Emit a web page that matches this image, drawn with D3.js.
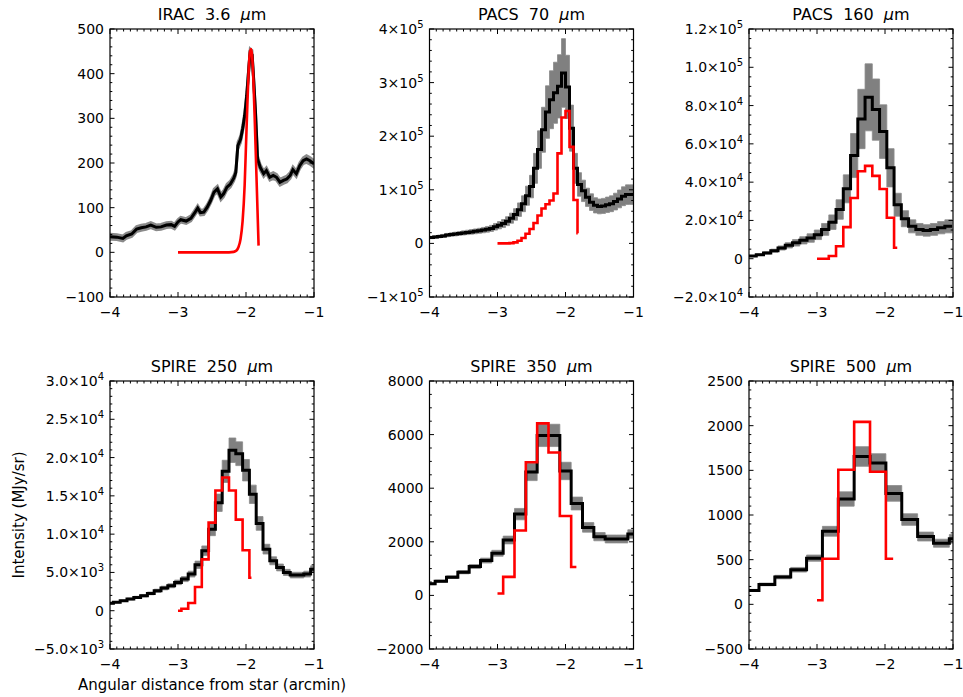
<!DOCTYPE html>
<html><head><meta charset="utf-8">
<script src="https://cdn.jsdelivr.net/npm/d3@7"></script>
<style>
body{margin:0;background:#fff;}
svg text{font-family:"DejaVu Sans",Verdana,sans-serif;fill:#000;}
</style></head><body>
<svg id="chart" width="963" height="697"></svg>
<script>
// ---------------- DATA ----------------
const xTicks = [-4, -3, -2, -1];
const xTickLabels = ["−4", "−3", "−2", "−1"];

// Panel 1: IRAC 3.6 um (finely sampled profile)
const iracX = [-4.00,-3.90,-3.81,-3.76,-3.68,-3.61,-3.54,-3.47,-3.40,-3.32,-3.25,-3.17,-3.10,-3.05,-3.00,-2.96,-2.88,-2.81,-2.76,-2.71,-2.67,-2.62,-2.57,-2.52,-2.47,-2.42,-2.37,-2.33,-2.28,-2.23,-2.18,-2.15,-2.12,-2.08,-2.05,-2.02,-1.99,-1.96,-1.94,-1.91,-1.89,-1.86,-1.84,-1.83,-1.79,-1.74,-1.70,-1.65,-1.60,-1.55,-1.50,-1.45,-1.40,-1.35,-1.31,-1.26,-1.21,-1.16,-1.11,-1.06,-1.00];
const iracV = [35,34,31,37,41,52,55,57,61,56,57,61,62,58,68,73,70,76,87,99,89,90,101,116,135,142,124,131,146,153,166,179,239,253,276,305,350,409,446,442,394,313,246,209,190,176,183,168,172,168,157,161,164,172,185,176,194,205,209,205,198];
const iracE = [6,6,6,6,6,6,6,6,6,6,6,6,6,6,6,6,6,6,6,6,6,6,6,6,7,7,7,7,7,7,7,7,8,8,8,9,9,10,10,10,10,9,8,8,7,7,7,7,7,7,7,7,7,7,7,7,7,7,8,8,8];
const iracModelX = [-3.00,-2.50,-2.25,-2.18,-2.14,-2.11,-2.08,-2.05,-2.02,-2.00,-1.98,-1.96,-1.94,-1.925,-1.91,-1.89,-1.87,-1.85,-1.83,-1.815];
const iracModelV = [0,0,0,1,4,12,30,70,150,240,330,410,450,455,440,380,290,190,90,15];
const iracYTicks = [-100,0,100,200,300,400,500];
const iracYLabels = ["−100","0","100","200","300","400","500"];

// Panel 2: PACS 70 um (values in units of 1e3 MJy/sr)
const pacs70First = -4 + 0.5/17, pacs70Bin = 1/17;
const pacs70V = [11,12,13,14,15.5,16.5,17.5,18.5,19.5,20.5,21.5,22.5,23.5,24.8,26.3,28,31,34,37,41.5,47,54,63,74,89,106,140,175,212,245,268,281,293,318,292,215,140,110,98,86,77,71,69,70,72,74,78,83,88,91,91];
const pacs70E = [2.2,2.4,2.6,2.8,3.1,3.3,3.5,3.7,3.9,4.1,4.3,4.5,4.7,5,5.3,5.6,6.2,6.8,7.4,8.3,9.4,10.8,12.6,14.8,17.8,21,28,35,42,49,54,57,59,64,59,43,28,22,20,17,15.5,14.2,13.8,14,14.4,14.8,15.6,16.6,17.6,18.2,18.2];
const pacs70ModelFirstBin = 16;
const pacs70ModelV = [0,0,0,0,0.5,2,5,10,18,27,38,52,65,73,80,93,168,235,247,180,81,19];
const pacs70ModelRange = [-3.0, -1.82];
const pacs70YTicks = [-1e5,0,1e5,2e5,3e5,4e5];
const pacs70YLabels = ["−1×10^5","0","1×10^5","2×10^5","3×10^5","4×10^5"];

// Panel 3: PACS 160 um (units of 1e3)
const pacs160First = -4 + 0.5*0.10667, pacs160Bin = 0.10667;
const pacs160V = [1.4,2.1,3.0,4.2,5.6,7.0,8.3,9.6,10.8,12.5,15.3,19.1,25.7,36.5,53.9,73.0,84.3,77.9,66.4,47.5,28.2,20.9,16.9,15.3,14.8,15.3,16.2,16.9];
const pacs160E = [0.3,0.4,0.6,0.8,1.1,1.4,1.7,1.9,2.2,2.5,3.1,3.8,5.1,7.3,11.5,15.5,17.5,16,14,10,6,4.2,3.4,3.1,3.0,3.1,3.2,3.4];
const pacs160ModelFirstBin = 9;
const pacs160ModelV = [0,0,1.4,6.5,16.5,31.7,45.7,48.5,43.3,36.4,21.4,5.7];
const pacs160ModelRange = [-3.0, -1.82];
const pacs160YTicks = [-2e4,0,2e4,4e4,6e4,8e4,1e5,1.2e5];
const pacs160YLabels = ["−2.0×10^4","0","2.0×10^4","4.0×10^4","6.0×10^4","8.0×10^4","1.0×10^5","1.2×10^5"];

// Panel 4: SPIRE 250 um (units of 1e3)
const spire250First = -4.0, spire250Bin = 0.1;
const spire250V = [0.96,1.09,1.3,1.52,1.74,1.96,2.26,2.6,2.96,3.26,3.7,4.13,4.78,6.0,7.83,10.65,14.1,18.2,20.96,20.5,18.35,15.2,11.4,8.04,6.52,5.65,5.0,4.65,4.65,4.78,5.43];
const spire250E = [0.08,0.09,0.1,0.12,0.14,0.16,0.18,0.21,0.24,0.26,0.3,0.33,0.38,0.48,0.63,0.85,1.13,1.45,1.6,1.55,1.4,1.2,0.9,0.64,0.52,0.45,0.4,0.37,0.37,0.38,0.43];
const spire250ModelFirstBin = 10;
const spire250ModelV = [0,0.25,1.0,3.1,6.7,11.5,15.7,17.4,15.7,11.9,7.9,4.3];
const spire250ModelRange = [-3.0, -1.92];
const spire250YTicks = [-5e3,0,5e3,1e4,1.5e4,2e4,2.5e4,3e4];
const spire250YLabels = ["−5.0×10^3","0","5.0×10^3","1.0×10^4","1.5×10^4","2.0×10^4","2.5×10^4","3.0×10^4"];

// Panel 5: SPIRE 350 um
const spire350First = -4.0, spire350Bin = 1/6;
const spire350V = [433,532,681,867,1077,1300,1572,2067,3033,4605,5970,5970,4643,3429,2538,2191,2105,2105,2290];
const spire350E = [30,37,48,61,75,91,110,145,212,322,416,416,325,240,178,153,147,147,160];
const spire350ModelFirstBin = 6;
const spire350ModelV = [70,690,2420,4970,6420,5330,2960,1060];
const spire350ModelRange = [-3.0, -1.84];
const spire350YTicks = [-2000,0,2000,4000,6000,8000];
const spire350YLabels = ["−2000","0","2000","4000","6000","8000"];

// Panel 6: SPIRE 500 um
const spire500First = -3.97, spire500Bin = 0.2333;
const spire500V = [156,223,305,387,517,818,1179,1655,1581,1242,949,759,684,733];
const spire500E = [11,15,20,26,35,55,80,110,105,88,65,50,45,48];
const spire500ModelFirstBin = 4;
const spire500ModelV = [45,510,1507,2042,1484,510];
const spire500ModelRange = [-3.0, -1.88];
const spire500YTicks = [-500,0,500,1000,1500,2000,2500];
const spire500YLabels = ["−500","0","500","1000","1500","2000","2500"];

const titles = ["IRAC  3.6  ","PACS  70  ","PACS  160  ","SPIRE  250  ","SPIRE  350  ","SPIRE  500  "];
const yAxisTitle = "Intensity (MJy/sr)";
const xAxisTitle = "Angular distance from star (arcmin)";

// ---------------- BUILD ----------------
function centers(first, width, n){ return d3.range(n).map(i => first + i*width); }
function stepSeries(first, width, vals, errs, unit, firstBin, range){
  const cs = centers(first, width, (firstBin||0) + vals.length).slice(firstBin||0);
  const pts = [];
  cs.forEach((c,i)=>{
    let lo = c - width/2, hi = c + width/2;
    if (range){ lo = Math.max(lo, range[0]); hi = Math.min(hi, range[1]); }
    const v = vals[i]*unit, e = errs ? errs[i]*unit : 0;
    pts.push({x:lo, v, e}, {x:hi, v, e});
  });
  return pts;
}
function lineSeries(xs, vals, errs){ return xs.map((x,i)=>({x, v:vals[i], e: errs?errs[i]:0})); }

const panels = [
  {title:titles[0], col:0, row:0, yDomain:[-100,500], yTicks:iracYTicks, yLabels:iracYLabels, yMinor:20,
   obs: lineSeries(iracX, iracV, iracE), mod: lineSeries(iracModelX, iracModelV), smooth:true},
  {title:titles[1], col:1, row:0, yDomain:[-1e5,4e5], yTicks:pacs70YTicks, yLabels:pacs70YLabels, yMinor:2e4,
   obs: stepSeries(pacs70First, pacs70Bin, pacs70V, pacs70E, 1e3),
   mod: stepSeries(pacs70First, pacs70Bin, pacs70ModelV, null, 1e3, pacs70ModelFirstBin, pacs70ModelRange)},
  {title:titles[2], col:2, row:0, yDomain:[-2e4,1.2e5], yTicks:pacs160YTicks, yLabels:pacs160YLabels, yMinor:5e3,
   obs: stepSeries(pacs160First, pacs160Bin, pacs160V, pacs160E, 1e3),
   mod: stepSeries(pacs160First, pacs160Bin, pacs160ModelV, null, 1e3, pacs160ModelFirstBin, pacs160ModelRange)},
  {title:titles[3], col:0, row:1, yDomain:[-5e3,3e4], yTicks:spire250YTicks, yLabels:spire250YLabels, yMinor:1e3,
   obs: stepSeries(spire250First, spire250Bin, spire250V, spire250E, 1e3),
   mod: stepSeries(spire250First, spire250Bin, spire250ModelV, null, 1e3, spire250ModelFirstBin, spire250ModelRange)},
  {title:titles[4], col:1, row:1, yDomain:[-2000,8000], yTicks:spire350YTicks, yLabels:spire350YLabels, yMinor:500,
   obs: stepSeries(spire350First, spire350Bin, spire350V, spire350E, 1),
   mod: stepSeries(spire350First, spire350Bin, spire350ModelV, null, 1, spire350ModelFirstBin, spire350ModelRange)},
  {title:titles[5], col:2, row:1, yDomain:[-500,2500], yTicks:spire500YTicks, yLabels:spire500YLabels, yMinor:100,
   obs: stepSeries(spire500First, spire500Bin, spire500V, spire500E, 1),
   mod: stepSeries(spire500First, spire500Bin, spire500ModelV, null, 1, spire500ModelFirstBin, spire500ModelRange)}
];

// ---------------- DRAW ----------------
const svg = d3.select("#chart");
const colLeft = [110, 429.5, 749], rowTop = [29, 381], PW = 204, PH = 268;
const defs = svg.append("defs");

function addLabel(sel, str){
  const parts = str.split("^");
  sel.append("tspan").text(parts[0]);
  if (parts.length > 1) sel.append("tspan").attr("dy", -6).attr("font-size", 10).text(parts[1]);
}

panels.forEach((p, i) => {
  const L = colLeft[p.col], T = rowTop[p.row];
  const xs = d3.scaleLinear().domain([-4, -1]).range([L, L + PW]);
  const ys = d3.scaleLinear().domain(p.yDomain).range([T + PH, T]);
  const g = svg.append("g");
  defs.append("clipPath").attr("id", "clip" + i).append("rect")
    .attr("x", L).attr("y", T).attr("width", PW).attr("height", PH);
  const dg = g.append("g").attr("clip-path", `url(#clip${i})`);

  dg.append("path").datum(p.obs)
    .attr("d", d3.area().x(d => xs(d.x)).y0(d => ys(d.v - d.e)).y1(d => ys(d.v + d.e)))
    .attr("fill", "#808080").attr("stroke", "#8a8a8a").attr("stroke-width", p.smooth ? 2.5 : 0.8);
  dg.append("path").datum(p.obs)
    .attr("d", d3.line().x(d => xs(d.x)).y(d => ys(d.v)))
    .attr("fill", "none").attr("stroke", "#000").attr("stroke-width", 3).attr("stroke-linejoin", "miter");
  dg.append("path").datum(p.mod)
    .attr("d", d3.line().x(d => xs(d.x)).y(d => ys(d.v)).curve(p.smooth ? d3.curveMonotoneX : d3.curveLinear))
    .attr("fill", "none").attr("stroke", "#ff0000").attr("stroke-width", 2.6).attr("stroke-linejoin", "miter");

  // frame
  g.append("rect").attr("x", L).attr("y", T).attr("width", PW).attr("height", PH)
    .attr("fill", "none").attr("stroke", "#000").attr("stroke-width", 1.2);

  // ticks
  const tg = g.append("g").attr("stroke", "#000").attr("stroke-width", 1);
  const xMinor = d3.range(0, 31).map(k => -4 + k * 0.1);
  xMinor.forEach(v => {
    const major = xTicks.some(t => Math.abs(t - v) < 1e-6);
    const len = major ? 5 : 2.5, x = xs(v);
    tg.append("line").attr("x1", x).attr("x2", x).attr("y1", T + PH).attr("y2", T + PH - len);
    tg.append("line").attr("x1", x).attr("x2", x).attr("y1", T).attr("y2", T + len);
  });
  const nMinor = Math.round((p.yDomain[1] - p.yDomain[0]) / p.yMinor);
  d3.range(0, nMinor + 1).map(k => p.yDomain[0] + k * p.yMinor).forEach(v => {
    const major = p.yTicks.some(t => Math.abs(t - v) < p.yMinor * 1e-3);
    const len = major ? 4.5 : 2.3, y = ys(v);
    tg.append("line").attr("x1", L).attr("x2", L + len).attr("y1", y).attr("y2", y);
    tg.append("line").attr("x1", L + PW).attr("x2", L + PW - len).attr("y1", y).attr("y2", y);
  });

  // tick labels
  xTicks.forEach((t, k) => {
    g.append("text").attr("x", xs(t)).attr("y", T + PH + 20).attr("text-anchor", "middle")
      .attr("font-size", 14).text(xTickLabels[k]);
  });
  p.yTicks.forEach((t, k) => {
    const tx = g.append("text").attr("x", L - 6).attr("y", ys(t) + 5).attr("text-anchor", "end").attr("font-size", 14);
    addLabel(tx, p.yLabels[k]);
  });

  // title
  const tt = g.append("text").attr("x", L + PW / 2).attr("y", T - 9).attr("text-anchor", "middle")
    .attr("font-size", 16).style("white-space", "pre");
  tt.append("tspan").text(p.title);
  tt.append("tspan").attr("font-style", "italic").text("μ");
  tt.append("tspan").text("m");
});

svg.append("text").attr("transform", "translate(24,515) rotate(-90)").attr("text-anchor", "middle")
  .attr("font-size", 15).text(yAxisTitle);
svg.append("text").attr("x", 212).attr("y", 690).attr("text-anchor", "middle")
  .attr("font-size", 15).text(xAxisTitle);
</script>
</body></html>
